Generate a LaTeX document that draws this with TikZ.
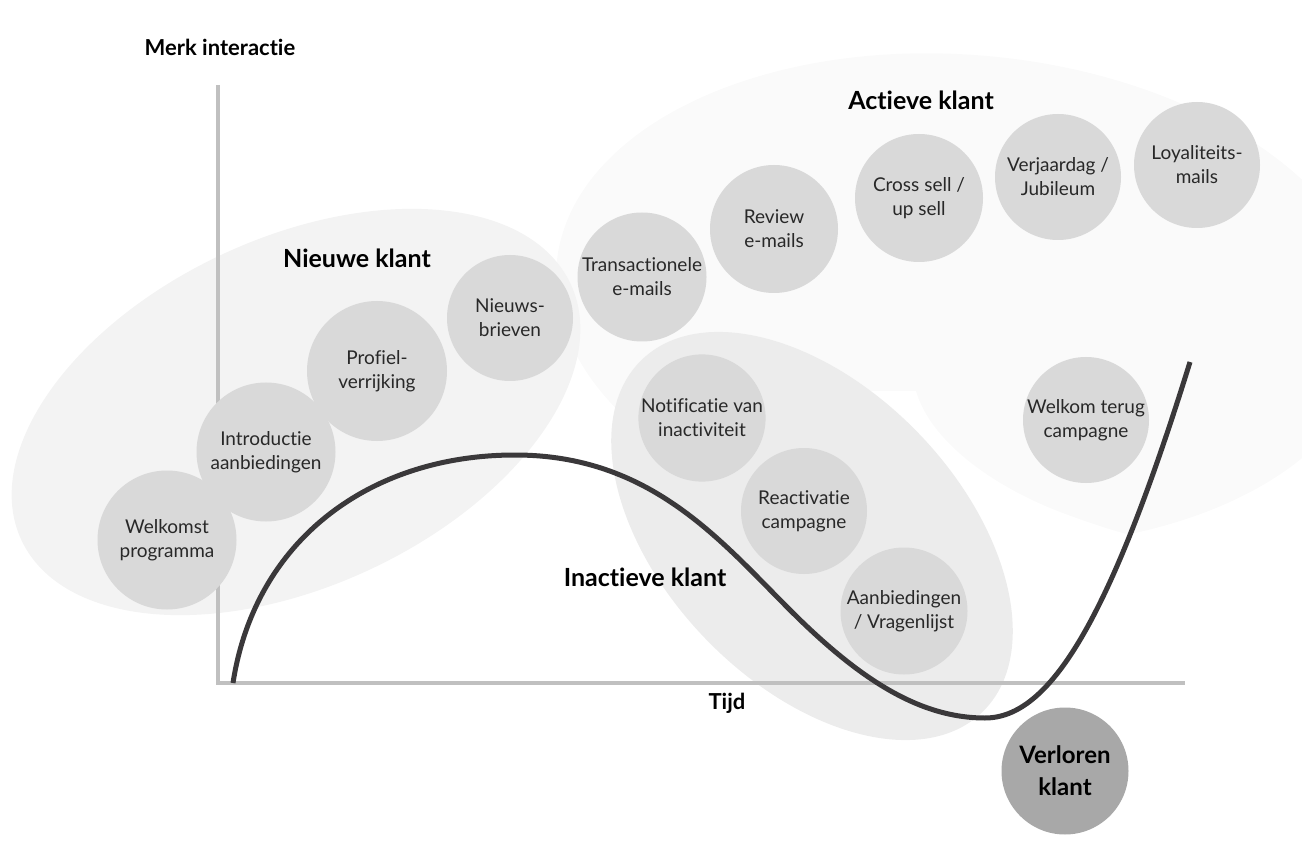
\documentclass[tikz,border=0pt]{standalone}
\usepackage{fontspec}
\setmainfont{Lato}[Ligatures=NoCommon]
\usetikzlibrary{shapes.geometric,positioning}
\definecolor{jvactive}{RGB}{250,250,250}
\definecolor{jvnew}{RGB}{243,243,243}
\definecolor{jvinactive}{RGB}{236,236,236}
\definecolor{jvtouch}{RGB}{217,217,217}
\definecolor{jvlost}{RGB}{168,168,168}
\definecolor{jvaxis}{RGB}{192,192,192}
\definecolor{jvcurve}{RGB}{58,56,58}
\definecolor{jvtext}{RGB}{40,40,40}
\tikzset{
  zone/.style={ellipse, inner sep=0pt},
  touch/.style={circle, fill=jvtouch, minimum size=128pt, inner sep=0pt,
                align=center, text=jvtext, font=\fontsize{19}{24}\selectfont},
  phase/.style={font=\fontsize{25}{30}\selectfont\bfseries, text=black}
}

\begin{document}
\begin{tikzpicture}[x=1pt,y=-1pt]
    \useasboundingbox (0,0) rectangle (1302,842);
    % Customer phases as soft zones
    \node[zone, fill=jvactive, minimum width=820pt, minimum height=490pt, rotate=-5] (active) at (965,300) {};
    \fill[white] (860,391) -- (916,391) .. controls (930,440) and (990,485) .. (1060,512)
                 .. controls (1100,527) and (1140,540) .. (1180,545)
                 -- (1180,620) -- (860,620) -- cycle;
    \node[zone, fill=jvnew, minimum width=606pt, minimum height=348pt, rotate=25] (new) at (296,412) {};
    \node[zone, fill=jvinactive, minimum width=490pt, minimum height=296pt, rotate=-46] (inactive) at (812,536) {};
    % Axes
    \coordinate (ytop) at (218,85);
    \coordinate (origin) at (218,683);
    \coordinate (xend) at (1185,683);
    \draw[jvaxis, line width=4pt] (ytop) -- (origin) -- (xend);
    \node[font=\fontsize{22}{26}\selectfont\bfseries] (ylabel) at (220,47) {Merk interactie};
    \node[font=\fontsize{22}{26}\selectfont\bfseries] (xlabel) at (727,703) {Tijd};
    % Touch points
    \node[touch, minimum size=139pt] (welkomst) at (167,540) {Welkomst\\programma};
    \node[touch, minimum size=139pt] (intro) at (266,452) {Introductie\\aanbiedingen};
    \node[touch, minimum size=140pt] (profiel) at (377,371) {Profiel-\\verrijking};
    \node[touch, minimum size=126pt] (nieuws) at (510,318) {Nieuws-\\brieven};
    \node[touch, minimum size=129pt] (trans) at (642,277) {Transactionele\\e-mails};
    \node[touch] (review) at (774,229) {Review\\e-mails};
    \node[touch] (cross) at (919,198) {Cross sell /\\up sell};
    \node[touch, minimum size=126pt] (jarig) at (1058,177) {Verjaardag /\\Jubileum};
    \node[touch, minimum size=126pt] (loyal) at (1197,165) {Loyaliteits-\\mails};
    \node[touch, minimum size=126pt] (notif) at (702,418) {Notificatie van\\inactiviteit};
    \node[touch, minimum size=126pt] (react) at (804,511) {Reactivatie\\campagne};
    \node[touch, minimum size=127pt] (vragen) at (904,611) {Aanbiedingen\\/ Vragenlijst};
    \node[touch, minimum size=126pt] (terug) at (1086,420) {Welkom terug\\campagne};
    \node[touch, fill=jvlost, minimum size=127pt, text=black,
          font=\fontsize{24}{32}\selectfont\bfseries] (lost) at (1065,771) {Verloren\\klant};
    % Phase labels
    \node[phase] (newlabel) at (357,258) {Nieuwe klant};
    \node[phase] (activelabel) at (921,100) {Actieve klant};
    \node[phase] (inactivelabel) at (645,577) {Inactieve klant};
    % Engagement curve
    \coordinate (start) at (233,683);
    \coordinate (peak) at (515,455);
    \coordinate (drop) at (790,610);
    \coordinate (dip) at (985,718);
    \coordinate (back) at (1190,362);
    \draw[jvcurve, line width=5pt] (start) .. controls (255,540) and (370,455) .. (peak)
          .. controls (650,455) and (720,540) .. (drop)
          .. controls (860,680) and (920,718) .. (dip)
          .. controls (1050,718) and (1110,620) .. (back);
\end{tikzpicture}
\end{document}
